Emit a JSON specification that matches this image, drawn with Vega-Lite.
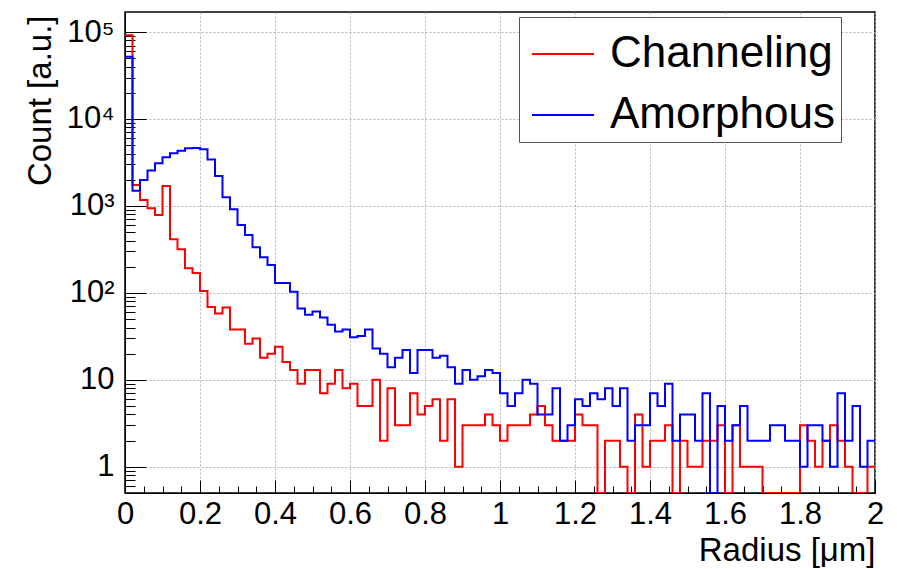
{
  "$schema": "https://vega.github.io/schema/vega-lite/v6.json",
  "width": 750,
  "height": 481,
  "autosize": "none",
  "padding": {"left": 125, "top": 12, "right": 22, "bottom": 76},
  "background": "white",
  "config": {
    "font": "Liberation Sans",
    "view": {"stroke": "black", "strokeWidth": 1.5},
    "axis": {
      "domainColor": "black",
      "tickColor": "black",
      "labelColor": "black",
      "titleColor": "black",
      "labelFont": "Liberation Sans",
      "titleFont": "Liberation Sans",
      "labelFontSize": 31,
      "titleFontSize": 33,
      "titleFontWeight": "normal",
      "gridColor": "#b4b4b4",
      "gridDash": [2, 2],
      "gridWidth": 1
    },
    "legend": {
      "orient": "none",
      "legendX": 394,
      "legendY": 5,
      "strokeColor": "#555555",
      "fillColor": "white",
      "padding": 5,
      "symbolOffset": 7,
      "symbolType": "stroke",
      "symbolStrokeWidth": 2,
      "symbolSize": 3844,
      "labelFontSize": 44,
      "labelFont": "Liberation Sans",
      "labelColor": "black",
      "labelOffset": 15,
      "rowPadding": 7,
      "labelLimit": 500
    }
  },
  "datasets": {
    "channeling": [
      {"radius":0,"count":92000},{"radius":0.02,"count":1740},{"radius":0.04,"count":1170},{"radius":0.06,"count":940},{"radius":0.08,"count":788},
      {"radius":0.1,"count":1700},{"radius":0.12,"count":414},{"radius":0.14,"count":318},{"radius":0.16,"count":192},{"radius":0.18,"count":169},
      {"radius":0.2,"count":105},{"radius":0.22,"count":69},{"radius":0.24,"count":58},{"radius":0.26,"count":68},{"radius":0.28,"count":38},
      {"radius":0.3,"count":38},{"radius":0.32,"count":26},{"radius":0.34,"count":30},{"radius":0.36,"count":18},{"radius":0.38,"count":20},
      {"radius":0.4,"count":24},{"radius":0.42,"count":16},{"radius":0.44,"count":13},{"radius":0.46,"count":9},{"radius":0.48,"count":13},
      {"radius":0.5,"count":13},{"radius":0.52,"count":7},{"radius":0.54,"count":9},{"radius":0.56,"count":13},{"radius":0.58,"count":8},
      {"radius":0.6,"count":9},{"radius":0.62,"count":5},{"radius":0.64,"count":5},{"radius":0.66,"count":10},{"radius":0.68,"count":2},
      {"radius":0.7,"count":8},{"radius":0.72,"count":3},{"radius":0.74,"count":3},{"radius":0.76,"count":7},{"radius":0.78,"count":4},
      {"radius":0.8,"count":5},{"radius":0.82,"count":6},{"radius":0.84,"count":2},{"radius":0.86,"count":6},{"radius":0.88,"count":1},
      {"radius":0.9,"count":3},{"radius":0.92,"count":3},{"radius":0.94,"count":3},{"radius":0.96,"count":4},{"radius":0.98,"count":3},
      {"radius":1,"count":2},{"radius":1.02,"count":3},{"radius":1.04,"count":3},{"radius":1.06,"count":3},{"radius":1.08,"count":4},
      {"radius":1.1,"count":5},{"radius":1.12,"count":3},{"radius":1.14,"count":2},{"radius":1.16,"count":2},{"radius":1.18,"count":2},
      {"radius":1.2,"count":4},{"radius":1.22,"count":3},{"radius":1.24,"count":3},{"radius":1.26,"count":0},{"radius":1.28,"count":2},
      {"radius":1.3,"count":2},{"radius":1.32,"count":1},{"radius":1.34,"count":0},{"radius":1.36,"count":4},{"radius":1.38,"count":1},
      {"radius":1.4,"count":2},{"radius":1.42,"count":2},{"radius":1.44,"count":3},{"radius":1.46,"count":0},{"radius":1.48,"count":2},
      {"radius":1.5,"count":1},{"radius":1.52,"count":1},{"radius":1.54,"count":2},{"radius":1.56,"count":2},{"radius":1.58,"count":3},
      {"radius":1.6,"count":0},{"radius":1.62,"count":3},{"radius":1.64,"count":1},{"radius":1.66,"count":1},{"radius":1.68,"count":1},
      {"radius":1.7,"count":0},{"radius":1.72,"count":0},{"radius":1.74,"count":0},{"radius":1.76,"count":0},{"radius":1.78,"count":0},
      {"radius":1.8,"count":3},{"radius":1.82,"count":2},{"radius":1.84,"count":1},{"radius":1.86,"count":2},{"radius":1.88,"count":3},
      {"radius":1.9,"count":2},{"radius":1.92,"count":1},{"radius":1.94,"count":0},{"radius":1.96,"count":0},{"radius":1.98,"count":1},
      {"radius":2,"count":1}
    ],
    "amorphous": [
      {"radius":0,"count":52000},{"radius":0.02,"count":1500},{"radius":0.04,"count":1990},{"radius":0.06,"count":2550},{"radius":0.08,"count":3090},
      {"radius":0.1,"count":3620},{"radius":0.12,"count":4030},{"radius":0.14,"count":4300},{"radius":0.16,"count":4600},{"radius":0.18,"count":4650},
      {"radius":0.2,"count":4480},{"radius":0.22,"count":3430},{"radius":0.24,"count":2210},{"radius":0.26,"count":1260},{"radius":0.28,"count":916},
      {"radius":0.3,"count":605},{"radius":0.32,"count":464},{"radius":0.34,"count":335},{"radius":0.36,"count":257},{"radius":0.38,"count":210},
      {"radius":0.4,"count":130},{"radius":0.42,"count":130},{"radius":0.44,"count":103},{"radius":0.46,"count":66},{"radius":0.48,"count":56},
      {"radius":0.5,"count":61},{"radius":0.52,"count":52},{"radius":0.54,"count":43},{"radius":0.56,"count":36},{"radius":0.58,"count":38},
      {"radius":0.6,"count":31},{"radius":0.62,"count":32},{"radius":0.64,"count":38},{"radius":0.66,"count":23},{"radius":0.68,"count":20},
      {"radius":0.7,"count":14},{"radius":0.72,"count":18},{"radius":0.74,"count":22},{"radius":0.76,"count":12},{"radius":0.78,"count":22},
      {"radius":0.8,"count":22},{"radius":0.82,"count":18},{"radius":0.84,"count":19},{"radius":0.86,"count":14},{"radius":0.88,"count":9},
      {"radius":0.9,"count":13},{"radius":0.92,"count":10},{"radius":0.94,"count":11},{"radius":0.96,"count":13},{"radius":0.98,"count":12},
      {"radius":1,"count":7},{"radius":1.02,"count":5},{"radius":1.04,"count":7},{"radius":1.06,"count":10},{"radius":1.08,"count":9},
      {"radius":1.1,"count":4},{"radius":1.12,"count":4},{"radius":1.14,"count":8},{"radius":1.16,"count":2},{"radius":1.18,"count":3},
      {"radius":1.2,"count":6},{"radius":1.22,"count":5},{"radius":1.24,"count":7},{"radius":1.26,"count":6},{"radius":1.28,"count":8},
      {"radius":1.3,"count":5},{"radius":1.32,"count":8},{"radius":1.34,"count":2},{"radius":1.36,"count":3},{"radius":1.38,"count":3},
      {"radius":1.4,"count":7},{"radius":1.42,"count":5},{"radius":1.44,"count":9},{"radius":1.46,"count":2},{"radius":1.48,"count":4},
      {"radius":1.5,"count":4},{"radius":1.52,"count":2},{"radius":1.54,"count":7},{"radius":1.56,"count":0},{"radius":1.58,"count":5},
      {"radius":1.6,"count":2},{"radius":1.62,"count":3},{"radius":1.64,"count":5},{"radius":1.66,"count":2},{"radius":1.68,"count":2},
      {"radius":1.7,"count":2},{"radius":1.72,"count":3},{"radius":1.74,"count":3},{"radius":1.76,"count":2},{"radius":1.78,"count":2},
      {"radius":1.8,"count":1},{"radius":1.82,"count":3},{"radius":1.84,"count":3},{"radius":1.86,"count":2},{"radius":1.88,"count":1},
      {"radius":1.9,"count":7},{"radius":1.92,"count":2},{"radius":1.94,"count":5},{"radius":1.96,"count":1},{"radius":1.98,"count":2},
      {"radius":2,"count":2}
    ]
  },
  "layer": [
    {
      "data": {"name": "channeling"},
      "mark": {"type": "line", "interpolate": "step-after", "strokeWidth": 2, "clip": true, "invalid": "show"},
      "encoding": {
        "x": {
          "field": "radius", "type": "quantitative",
          "scale": {"domain": [0, 2], "nice": false, "zero": false},
          "axis": {
            "orient": "bottom",
            "values": [0, 0.2, 0.4, 0.6, 0.8, 1, 1.2, 1.4, 1.6, 1.8, 2],
            "format": "~g",
            "tickSize": -13,
            "labelPadding": 19,
            "labelFlush": false,
            "labelOverlap": false,
            "grid": true,
            "title": "Radius [μm]",
            "titleAnchor": "end",
            "titleAlign": "right",
            "titleX": 750,
            "titleY": 67,
            "titleBaseline": "alphabetic"
          }
        },
        "y": {
          "field": "count", "type": "quantitative",
          "scale": {"type": "log", "domain": [0.5, 170000], "nice": false, "clamp": true},
          "axis": {
            "orient": "left",
            "values": [1, 10, 100, 1000, 10000, 100000],
            "labelExpr": "datum.value == 1 ? '1' : datum.value == 10 ? '10' : datum.value == 100 ? '10²' : datum.value == 1000 ? '10³' : datum.value == 10000 ? '10⁴' : '10⁵'",
            "tickSize": -21,
            "labelPadding": 32,
            "labelOverlap": false,
            "grid": true,
            "title": "Count [a.u.]",
            "titleAlign": "right",
            "titleAngle": -90,
            "titleX": -75,
            "titleY": 3,
            "titleBaseline": "alphabetic"
          }
        },
        "color": {
          "datum": "Channeling",
          "type": "nominal",
          "scale": {"domain": ["Channeling", "Amorphous"], "range": ["#ff0000", "#0000ff"]},
          "legend": {"title": null, "labelExpr": "datum.label + '\u2003'"}
        }
      }
    },
    {
      "data": {"name": "amorphous"},
      "mark": {"type": "line", "interpolate": "step-after", "strokeWidth": 2, "clip": true, "invalid": "show"},
      "encoding": {
        "x": {
          "field": "radius", "type": "quantitative",
          "axis": {
            "orient": "bottom",
            "values": [0.05,0.1,0.15,0.25,0.3,0.35,0.45,0.5,0.55,0.65,0.7,0.75,0.85,0.9,0.95,1.05,1.1,1.15,1.25,1.3,1.35,1.45,1.5,1.55,1.65,1.7,1.75,1.85,1.9,1.95],
            "tickSize": -7,
            "labels": false,
            "domain": false,
            "grid": false,
            "title": null
          }
        },
        "y": {
          "field": "count", "type": "quantitative",
          "axis": {
            "orient": "left",
            "values": [0.6,0.7,0.8,0.9,2,3,4,5,6,7,8,9,20,30,40,50,60,70,80,90,200,300,400,500,600,700,800,900,2000,3000,4000,5000,6000,7000,8000,9000,20000,30000,40000,50000,60000,70000,80000,90000],
            "tickSize": -10,
            "labels": false,
            "domain": false,
            "grid": false,
            "title": null
          }
        },
        "color": {"datum": "Amorphous", "type": "nominal"}
      }
    }
  ],
  "resolve": {"axis": {"x": "independent", "y": "independent"}}
}
